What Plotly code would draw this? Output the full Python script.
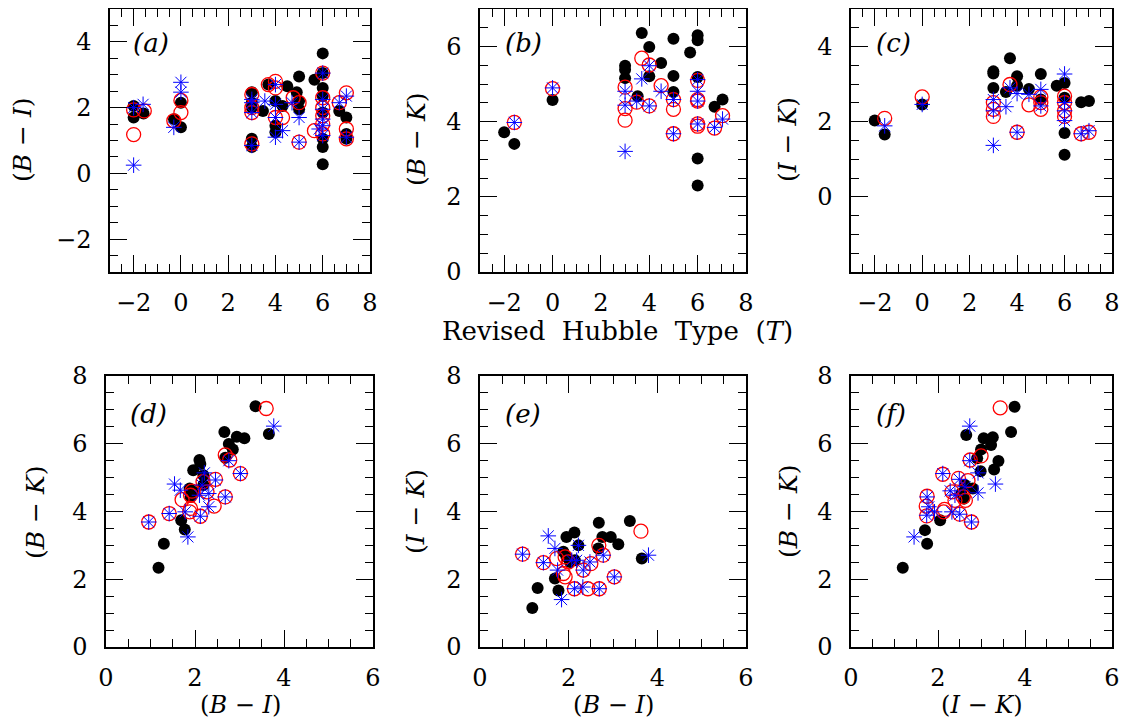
import plotly.graph_objects as go

# the page body has an 8px default margin; coordinates below are screen pixels
OX, OY = 8, 8
W, H = 1114, 711
FONT = "DejaVu Serif"

# ---------------- Panel (a): T vs (B - I) ----------------
a_blk_x = [-2, -2, -1.58, -0.29, 0, 0, 3, 3, 3, 3, 3, 3.47, 3.7, 4, 4, 4, 4.3, 4.5, 4.9, 5, 5, 5, 5.65,
           6, 6, 6, 6, 6, 6, 6, 6, 6.7, 7, 7, 7]
a_blk_y = [2.05, 1.7, 1.82, 1.65, 1.4, 2.15, 2.47, 2.15, 2.0, 1.05, 0.8, 1.9, 2.7, 2.2, 1.45, 1.25, 2.05, 2.65, 2.47,
           2.95, 2.2, 1.95, 2.85, 3.65, 3.05, 2.6, 2.35, 1.85, 1.05, 0.8, 0.28, 1.9, 1.7, 1.2, 1.05]
a_red_x = [-2, -2, -1.55, -0.3, 0, 0, 3, 3, 3, 3, 3.7, 4, 4, 4, 4.3, 4.75, 5, 5, 5.65, 6, 6, 6, 6, 6, 6, 6.7, 7, 7, 7]
a_red_y = [1.93, 1.18, 1.9, 1.6, 2.22, 1.85, 2.4, 2.0, 1.85, 0.9, 2.7, 2.8, 2.6, 1.7, 1.7, 2.3, 2.15, 0.95, 1.3,
           3.05, 2.3, 2.0, 1.75, 1.5, 1.2, 2.15, 2.45, 1.35, 1.05]
a_blu_x = [-2, -2, -1.6, -0.3, 0, 0, 3, 3, 3, 3, 3.55, 4, 4, 4, 4, 4.3, 4.7, 5, 5, 5.85, 6, 6, 6, 6, 6, 6, 6.7, 7, 7]
a_blu_y = [0.25, 2.0, 2.1, 1.4, 2.77, 2.47, 2.25, 2.15, 1.85, 0.85, 2.2, 2.7, 2.1, 1.7, 1.1, 1.3, 2.15, 1.7, 0.95,
           1.35, 3.05, 2.25, 1.95, 1.65, 1.45, 1.15, 2.15, 2.35, 1.1]

# ---------------- Panel (b): T vs (B - K) ----------------
b_blk_x = [-2, -1.58, 0, 3, 3, 3, 3.52, 3.69, 4, 4, 4.49, 5, 5, 5, 5.69, 6, 6, 6, 6, 6, 6.7, 7.03]
b_blk_y = [3.72, 3.41, 4.58, 5.49, 5.38, 5.16, 4.68, 6.36, 5.99, 5.21, 5.56, 6.21, 5.22, 4.79, 5.84,
           6.30, 6.17, 5.19, 3.02, 2.30, 4.40, 4.59]
b_red_x = [-1.58, 0, 3, 3, 3, 3.48, 3.69, 4, 4, 4.49, 5, 5, 5, 6, 6, 6, 6, 6, 6.7, 7.03]
b_red_y = [3.98, 4.88, 4.92, 4.35, 4.04, 4.52, 5.69, 5.51, 4.42, 4.96, 4.59, 4.33, 3.68, 5.10, 4.59, 4.55,
           3.94, 3.88, 3.83, 4.16]
b_blu_x = [-1.58, 0, 3, 3, 3, 3.48, 3.69, 4, 4, 4.49, 5, 5, 6, 6, 6, 6, 6.7, 7.03]
b_blu_y = [3.98, 4.9, 4.81, 4.44, 3.21, 4.55, 5.14, 5.49, 4.42, 4.81, 4.59, 3.68, 5.12, 4.81, 4.55, 3.94, 3.85, 4.07]

# ---------------- Panel (c): T vs (I - K) ----------------
c_blk_x = [-2, -1.58, 0, 3, 3, 3, 3.53, 3.7, 4, 4, 4.5, 5, 5, 5.67, 6, 6, 6, 6, 6.7, 7.03]
c_blk_y = [2.03, 1.66, 2.46, 3.34, 3.28, 2.90, 2.79, 3.69, 3.21, 2.96, 2.87, 3.27, 2.59, 2.96, 3.03, 2.64,
           1.70, 1.12, 2.52, 2.55]
c_red_x = [-1.58, 0, 3, 3, 3, 3.7, 4, 4.5, 5, 5, 5, 6, 6, 6, 6, 6.7, 7.03]
c_red_y = [2.09, 2.66, 2.51, 2.33, 2.14, 2.99, 1.72, 2.45, 2.66, 2.51, 2.33, 2.68, 2.51, 2.29, 2.14, 1.68, 1.72]
c_blu_x = [-1.58, 0, 3, 3, 3, 3.53, 3.7, 4, 4, 4.5, 5, 5, 6, 6, 6, 6, 6.7, 7.03]
c_blu_y = [1.89, 2.46, 2.59, 2.29, 1.37, 2.40, 2.90, 2.75, 1.72, 2.73, 2.86, 2.42, 3.27, 2.51, 2.29, 2.03, 1.68, 1.76]

# ---------------- Panel (d): (B - I) vs (B - K) ----------------
d_blk_x = [3.36, 3.66, 2.66, 2.94, 3.11, 2.76, 2.85, 2.68, 2.10, 2.12, 1.96, 2.19, 1.88, 1.96, 1.90, 1.69, 1.77,
           1.30, 1.18, 2.19]
d_blk_y = [7.11, 6.29, 6.35, 6.21, 6.16, 5.99, 5.83, 5.59, 5.52, 5.40, 5.22, 5.07, 4.68, 4.58, 4.43, 3.74, 3.47,
           3.05, 2.34, 4.78]
d_red_x = [3.60, 2.68, 2.78, 3.02, 2.46, 2.18, 2.27, 1.93, 1.71, 2.68, 2.43, 1.90, 1.88, 2.12, 1.42, 0.96, 1.90]
d_red_y = [7.04, 5.67, 5.52, 5.12, 4.95, 4.88, 4.58, 4.60, 4.35, 4.43, 4.16, 4.09, 3.99, 3.86, 3.94, 3.69, 4.48]
d_blu_x = [3.77, 2.76, 3.02, 2.21, 2.46, 1.54, 2.16, 2.31, 2.10, 1.67, 2.68, 2.31, 1.78, 2.12, 1.42, 0.96, 1.84]
d_blu_y = [6.52, 5.50, 5.12, 5.14, 4.93, 4.81, 4.78, 4.53, 4.48, 4.63, 4.43, 4.14, 3.99, 3.86, 3.94, 3.69, 3.25]

# ---------------- Panel (e): (B - I) vs (I - K) ----------------
e_blk_x = [3.38, 2.68, 2.13, 1.95, 2.76, 2.95, 3.12, 2.22, 2.67, 1.88, 1.95, 2.03, 3.65, 1.69, 1.30, 1.77, 1.18, 2.14]
e_blk_y = [3.72, 3.67, 3.38, 3.25, 3.25, 3.25, 3.03, 3.0, 2.91, 2.81, 2.66, 2.51, 2.61, 2.02, 1.74, 1.67, 1.15, 2.56]
e_red_x = [3.63, 2.68, 2.78, 0.96, 1.43, 1.73, 1.92, 1.99, 2.50, 2.33, 1.88, 1.92, 3.03, 2.13, 2.43, 2.69]
e_red_y = [3.42, 3.00, 2.71, 2.74, 2.49, 2.61, 2.66, 2.51, 2.46, 2.27, 2.17, 2.07, 2.07, 1.72, 1.72, 1.72]
e_blu_x = [3.80, 2.78, 1.54, 1.69, 0.96, 1.43, 2.22, 2.18, 2.48, 2.33, 1.75, 3.03, 2.13, 2.32, 2.69, 1.84, 2.07]
e_blu_y = [2.71, 2.71, 3.28, 2.91, 2.74, 2.49, 3.0, 2.56, 2.51, 2.27, 2.27, 2.07, 1.72, 1.77, 1.72, 1.40, 2.56]

# ---------------- Panel (f): (I - K) vs (B - K) ----------------
f_blk_x = [3.76, 3.68, 2.65, 3.05, 3.26, 3.22, 2.99, 2.90, 3.39, 3.29, 2.98, 2.62, 2.80, 2.54, 2.60, 2.05, 1.70,
           1.75, 1.19]
f_blk_y = [7.09, 6.35, 6.26, 6.16, 6.19, 5.96, 5.83, 5.57, 5.49, 5.24, 5.19, 4.78, 4.68, 4.53, 4.38, 3.74, 3.45,
           3.05, 2.34]
f_red_x = [3.43, 2.99, 2.74, 2.11, 2.47, 2.69, 2.32, 2.58, 1.75, 2.63, 1.73, 2.15, 2.13, 2.50, 1.74, 2.77, 2.39]
f_red_y = [7.06, 5.64, 5.52, 5.10, 4.98, 4.91, 4.58, 4.43, 4.45, 4.33, 4.16, 4.06, 3.99, 3.92, 3.87, 3.69, 4.33]
f_blu_x = [2.73, 2.73, 2.11, 2.92, 2.49, 3.32, 2.28, 2.62, 2.92, 1.75, 2.39, 1.79, 1.92, 2.32, 2.50, 1.74, 2.77, 1.45]
f_blu_y = [6.52, 5.50, 5.12, 5.14, 4.95, 4.81, 4.61, 4.73, 4.55, 4.43, 4.48, 4.14, 3.99, 3.99, 3.92, 3.89, 3.69, 3.25]

# ---------------- layout helpers (screen pixels -> paper fractions) ----------------
def fx(px):
    return (px - OX) / W

def fy(py):
    return 1 - (py - OY) / H

panels = [
    ("a", (110, 370, 9, 272), [-3, 8], [-3, 5], (a_blk_x, a_blk_y, a_red_x, a_red_y, a_blu_x, a_blu_y)),
    ("b", (480, 746, 9, 272), [-3, 8], [0, 7], (b_blk_x, b_blk_y, b_red_x, b_red_y, b_blu_x, b_blu_y)),
    ("c", (851, 1112, 9, 272), [-3, 8], [-2, 5], (c_blk_x, c_blk_y, c_red_x, c_red_y, c_blu_x, c_blu_y)),
    ("d", (106, 373, 376, 647), [0, 6], [0, 8], (d_blk_x, d_blk_y, d_red_x, d_red_y, d_blu_x, d_blu_y)),
    ("e", (480, 746, 376, 647), [0, 6], [0, 8], (e_blk_x, e_blk_y, e_red_x, e_red_y, e_blu_x, e_blu_y)),
    ("f", (851, 1112, 376, 647), [0, 6], [0, 8], (f_blk_x, f_blk_y, f_red_x, f_red_y, f_blu_x, f_blu_y)),
]

fig = go.Figure()
layout = dict(width=W, height=H, margin=dict(l=0, r=0, t=0, b=0, pad=0, autoexpand=False),
              paper_bgcolor="white", plot_bgcolor="white", showlegend=False, template="none")

tickfont = dict(family=FONT, size=24, color="black")

def axis(domain, rng, anchor, standoff, alias=None):
    d = dict(
        domain=domain, range=rng, anchor=anchor, automargin=False,
        showline=True, mirror="allticks", linecolor="black", linewidth=1.5,
        ticks="inside", ticklen=17, tickwidth=1.2, tickcolor="black",
        tickmode="linear", tick0=0, dtick=2,
        minor=dict(tickmode="linear", tick0=0, dtick=0.5, ticks="inside", ticklen=8,
                   tickwidth=1.2, tickcolor="black", showgrid=False),
        showgrid=False, zeroline=False, tickfont=tickfont, ticklabelstandoff=standoff,
        ticklabeloverflow="allow", fixedrange=True,
    )
    if alias:
        d["labelalias"] = alias
    return d

for i, (pid, box, xr, yr, data) in enumerate(panels):
    n = "" if i == 0 else str(i + 1)
    x0, x1, y0, y1 = box
    alias = {"\u22122": "", "-2": ""} if pid == "c" else None
    layout["xaxis" + n] = axis([fx(x0), fx(x1)], [xr[0], xr[1] + 1e-6], "y" + n, 8)
    layout["yaxis" + n] = axis([fy(y1), fy(y0)], [yr[0] - 1e-6, yr[1] + 1e-6], "x" + n, 12, alias)

    bx, by, rx, ry, ux, uy = data
    fig.add_trace(go.Scatter(x=bx, y=by, mode="markers", xaxis="x" + n, yaxis="y" + n,
                             marker=dict(symbol="circle", size=12, color="black", line=dict(width=0))))
    fig.add_trace(go.Scatter(x=rx, y=ry, mode="markers", xaxis="x" + n, yaxis="y" + n,
                             marker=dict(symbol="circle-open", size=14, color="red", line=dict(width=1.3))))
    fig.add_trace(go.Scatter(x=ux, y=uy, mode="markers", xaxis="x" + n, yaxis="y" + n,
                             marker=dict(symbol="asterisk-open", size=13, color="blue", line=dict(width=1))))

annotations = []

def ann(text, px, py, size=25, angle=0, xanchor="center", yanchor="middle", italic=False):
    annotations.append(dict(text=text, x=fx(px), y=fy(py), xref="paper", yref="paper",
                            xanchor=xanchor, yanchor=yanchor, showarrow=False, textangle=angle,
                            font=dict(family=FONT, size=size, color="black",
                                      style="italic" if italic else "normal")))

S = "\u00a0"
# panel labels
for pid, (px, py) in zip("abcdef", [(131, 43), (503, 43), (874, 43), (128, 414), (503, 414), (874, 414)]):
    ann("(" + pid + ")", px, py, size=26, xanchor="left", italic=True)

# axis titles
BI = "(<i>B</i>" + S + "\u2212" + S + "<i>I</i>)"
BK = "(<i>B</i>" + S + "\u2212" + S + "<i>K</i>)"
IK = "(<i>I</i>" + S + "\u2212" + S + "<i>K</i>)"
ann(BI, 23, 140, angle=-90)
ann(BK, 417, 140, angle=-90)
ann(IK, 788, 140, angle=-90)
ann(BK, 35, 512, angle=-90)
ann(IK, 415, 512, angle=-90)
ann(BK, 788, 512, angle=-90)

ann("Revised" + S + S + "Hubble" + S + S + "Type" + S + S + "(<i>T</i>)", 617, 331, size=26)
ann(BI, 240, 705, size=24)
ann(BI, 613, 705, size=24)
ann(IK, 982, 705, size=24)

layout["annotations"] = annotations
fig.update_layout(**layout)
fig.write_html("out.html")
